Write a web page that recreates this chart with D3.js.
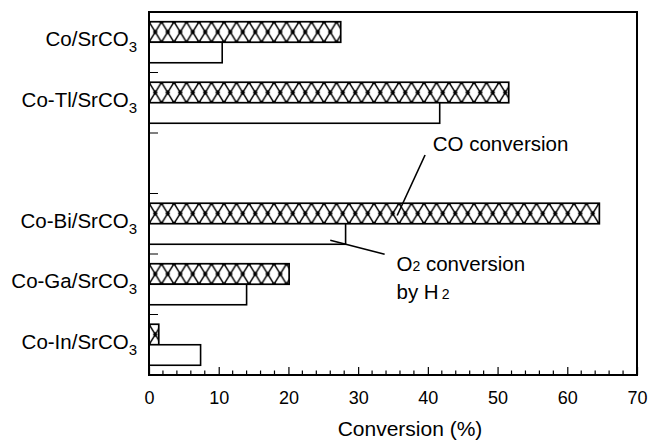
<!DOCTYPE html>
<html>
<head>
<meta charset="utf-8">
<script src="https://cdn.jsdelivr.net/npm/d3@7"></script>
<style>
  html, body { margin: 0; padding: 0; background: #fff; }
  svg { display: block; font-family: "Liberation Sans", Arial, Helvetica, sans-serif; }
</style>
</head>
<body>
<svg id="chart" width="649" height="441"></svg>
<script>
// Catalysts (top to bottom); the empty entry leaves a gap row in the chart
const categories = ["Co/SrCO3", "Co-Tl/SrCO3", "", "Co-Bi/SrCO3", "Co-Ga/SrCO3", "Co-In/SrCO3"];
// CO conversion (%), hatched bars
const coConversion = [27.5, 51.6, null, 64.6, 20.1, 1.4];
// O2 conversion by H2 (%), open bars
const o2Conversion = [10.5, 41.7, null, 28.2, 14.0, 7.4];
const seriesKeys = ["co", "o2"];
const xTicks = [0, 10, 20, 30, 40, 50, 60, 70];

const svg = d3.select("#chart");
const margin = { top: 12, right: 12, bottom: 66, left: 149 };
const W = 649, H = 441;
const x0 = margin.left, x1 = W - margin.right;
const y0 = margin.top, y1 = H - margin.bottom;

const x = d3.scaleLinear().domain([0, 70]).range([x0, x1]);
const y = d3.scaleBand().domain(categories.map((c, i) => i)).range([y0, y1])
  .paddingInner(0.322).paddingOuter(0.161);
const ySub = d3.scaleBand().domain(seriesKeys).range([0, y.bandwidth()]);

const rows = categories.map((c, i) => ({ i, name: c, co: coConversion[i], o2: o2Conversion[i] }))
  .filter(d => d.co != null);

// Cross-hatch pattern, one per bar so the motif lines up with each bar's top
const defs = svg.append("defs");
const tileW = 12.5, tileH = ySub.bandwidth();
rows.forEach(d => {
  const p = defs.append("pattern")
    .attr("id", "hatch" + d.i)
    .attr("patternUnits", "userSpaceOnUse")
    .attr("x", x(0)).attr("y", y(d.i) + ySub("co"))
    .attr("width", tileW).attr("height", tileH);
  p.append("rect").attr("width", tileW).attr("height", tileH).attr("fill", "#fff");
  p.append("path")
    .attr("d", `M0,0L${tileW},${tileH}M${tileW},0L0,${tileH}`)
    .attr("stroke", "#000").attr("stroke-width", 1.4).attr("fill", "none");
  [[tileW / 2, tileH / 2], [0, 0], [tileW, 0], [0, tileH], [tileW, tileH]].forEach(([cx, cy]) =>
    p.append("circle").attr("cx", cx).attr("cy", cy).attr("r", 2.1).attr("fill", "#000"));
});

// Bars
const g = svg.append("g");
rows.forEach(d => {
  g.append("rect")
    .attr("x", x(0)).attr("y", y(d.i) + ySub("co"))
    .attr("width", x(d.co) - x(0)).attr("height", ySub.bandwidth())
    .attr("fill", `url(#hatch${d.i})`).attr("stroke", "#000").attr("stroke-width", 1.7);
  g.append("rect")
    .attr("x", x(0)).attr("y", y(d.i) + ySub("o2"))
    .attr("width", x(d.o2) - x(0)).attr("height", ySub.bandwidth())
    .attr("fill", "#fff").attr("stroke", "#000").attr("stroke-width", 1.6);
});

// Frame
svg.append("rect").attr("x", x0).attr("y", y0).attr("width", x1 - x0).attr("height", y1 - y0)
  .attr("fill", "none").attr("stroke", "#000").attr("stroke-width", 2);

// Bottom axis: major ticks every 10, minor every 2, drawn inward
const xAxis = d3.axisBottom(x).tickValues(xTicks).tickSizeInner(-8).tickSizeOuter(0).tickPadding(16);
const ax = svg.append("g").attr("transform", `translate(0,${y1})`).call(xAxis);
ax.select(".domain").remove();
ax.selectAll(".tick line").attr("stroke", "#000").attr("stroke-width", 1.2);
ax.selectAll("text").attr("font-size", 18).attr("fill", "#000").attr("font-family", "Liberation Sans, Arial, sans-serif");
const minor = d3.range(0, 70.1, 2).filter(v => v % 10 !== 0);
svg.append("g").selectAll("line").data(minor).join("line")
  .attr("x1", d => x(d)).attr("x2", d => x(d)).attr("y1", y1).attr("y2", y1 - 4.5)
  .attr("stroke", "#000").attr("stroke-width", 1.2);

// Category separators on the left axis
const seps = d3.range(1, categories.length).map(i => y(i) - y.step() * y.paddingInner() / 2);
svg.append("g").selectAll("line").data(seps).join("line")
  .attr("x1", x0).attr("x2", x0 + 9).attr("y1", d => d).attr("y2", d => d)
  .attr("stroke", "#000").attr("stroke-width", 1);

// Category labels with subscript digit
rows.forEach(d => {
  const m = d.name.match(/^(.*?)(\d)$/);
  const t = svg.append("text")
    .attr("x", x0 - 12).attr("y", y(d.i) + y.bandwidth() / 2 + 4)
    .attr("text-anchor", "end").attr("font-size", 20.5).attr("fill", "#000");
  t.append("tspan").text(m[1]);
  t.append("tspan").attr("font-size", 15).attr("dy", 6).text(m[2]);
});

// Axis title
svg.append("text").attr("x", (x0 + x1) / 2 + 17).attr("y", 436).attr("text-anchor", "middle")
  .attr("font-size", 21).attr("fill", "#000").text("Conversion (%)");

// Annotations for the two series, anchored on the Co-Bi bars
const biIdx = categories.indexOf("Co-Bi/SrCO3");
const coY = y(biIdx) + ySub("co") + ySub.bandwidth() / 2;
const o2Y = y(biIdx) + ySub("o2") + ySub.bandwidth();
svg.append("line").attr("x1", x(39.6)).attr("y1", 155).attr("x2", x(35.6)).attr("y2", coY + 2)
  .attr("stroke", "#000").attr("stroke-width", 1.6);
svg.append("text").attr("x", x(40.7)).attr("y", 151).attr("font-size", 20.5).attr("fill", "#000")
  .text("CO conversion");
svg.append("line").attr("x1", x(26.0)).attr("y1", o2Y - 4).attr("x2", x(33.8)).attr("y2", o2Y + 10)
  .attr("stroke", "#000").attr("stroke-width", 1.6);
const o2t = svg.append("text").attr("x", x(35.5)).attr("y", 271).attr("font-size", 20.5).attr("fill", "#000");
o2t.append("tspan").text("O");
o2t.append("tspan").attr("font-size", 14).text("2");
o2t.append("tspan").text(" conversion");
const o2t2 = svg.append("text").attr("x", x(35.5)).attr("y", 299).attr("font-size", 20.5).attr("fill", "#000");
o2t2.append("tspan").text("by H");
o2t2.append("tspan").attr("font-size", 14).attr("dx", 3).text("2");
</script>
</body>
</html>
